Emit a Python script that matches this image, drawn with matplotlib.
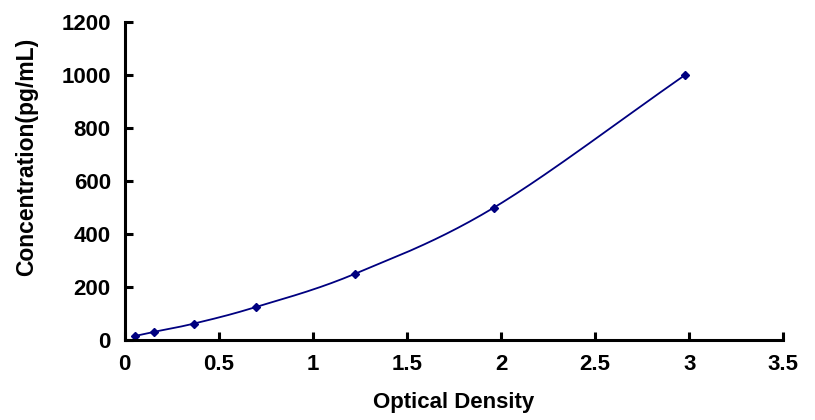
import numpy as np
import matplotlib
matplotlib.use('Agg')
from matplotlib import pyplot as plt

# standard curve readings
od = [0.053, 0.154, 0.367, 0.697, 1.223, 1.963, 2.979]
conc = [15.6, 31.25, 62.5, 125, 250, 500, 1000]

x_ticks = [0, 0.5, 1, 1.5, 2, 2.5, 3, 3.5]
x_tick_labels = ['0', '0.5', '1', '1.5', '2', '2.5', '3', '3.5']
y_ticks = [0, 200, 400, 600, 800, 1000, 1200]

line_color = '#000080'

def smoothCurve(xs, ys, steps=40):
    # catmull-rom through the points, like a spreadsheet smoothed line
    xs = np.asarray(xs, dtype=float)
    ys = np.asarray(ys, dtype=float)
    px = np.concatenate([[2 * xs[0] - xs[1]], xs, [2 * xs[-1] - xs[-2]]])
    py = np.concatenate([[2 * ys[0] - ys[1]], ys, [2 * ys[-1] - ys[-2]]])
    out_x, out_y = [], []
    t = np.linspace(0, 1, steps)
    for i in range(1, len(px) - 2):
        for p, out in ((px, out_x), (py, out_y)):
            p0, p1, p2, p3 = p[i - 1], p[i], p[i + 1], p[i + 2]
            seg = 0.5 * ((2 * p1) + (-p0 + p2) * t + (2 * p0 - 5 * p1 + 4 * p2 - p3) * t ** 2
                         + (-p0 + 3 * p1 - 3 * p2 + p3) * t ** 3)
            out.extend(seg)
    return np.array(out_x), np.array(out_y)

plt.rcParams['font.family'] = ['Liberation Sans', 'DejaVu Sans']
plt.rcParams['font.weight'] = 'bold'

fig = plt.figure(figsize=(8.15, 4.2), dpi=100)
ax = fig.add_axes([0.153, 0.19, 0.808, 0.758])

cx, cy = smoothCurve(od, conc)
ax.plot(cx, cy, color=line_color, linewidth=1.3)
ax.plot(od, conc, linestyle='none', marker='D', markersize=4.5, color=line_color)

ax.set_xlim(0, 3.5)
ax.set_ylim(0, 1200)
ax.set_xticks(x_ticks)
ax.set_xticklabels(x_tick_labels)
ax.set_yticks(y_ticks)

for side in ['top', 'right']:
    ax.spines[side].set_visible(False)
for side in ['left', 'bottom']:
    ax.spines[side].set_linewidth(2.2)

ax.tick_params(direction='in', length=6, width=2.2, labelsize=16, pad=10)
for lbl in ax.get_xticklabels() + ax.get_yticklabels():
    lbl.set_fontweight('bold')

ax.set_xlabel('Optical Density', fontsize=16, fontweight='bold', labelpad=12)
ax.set_ylabel('Concentration(pg/mL)', fontsize=16.5, fontweight='bold')
ax.yaxis.set_label_coords(-0.132, 0.575)

fig.savefig('out.png', dpi=100)
